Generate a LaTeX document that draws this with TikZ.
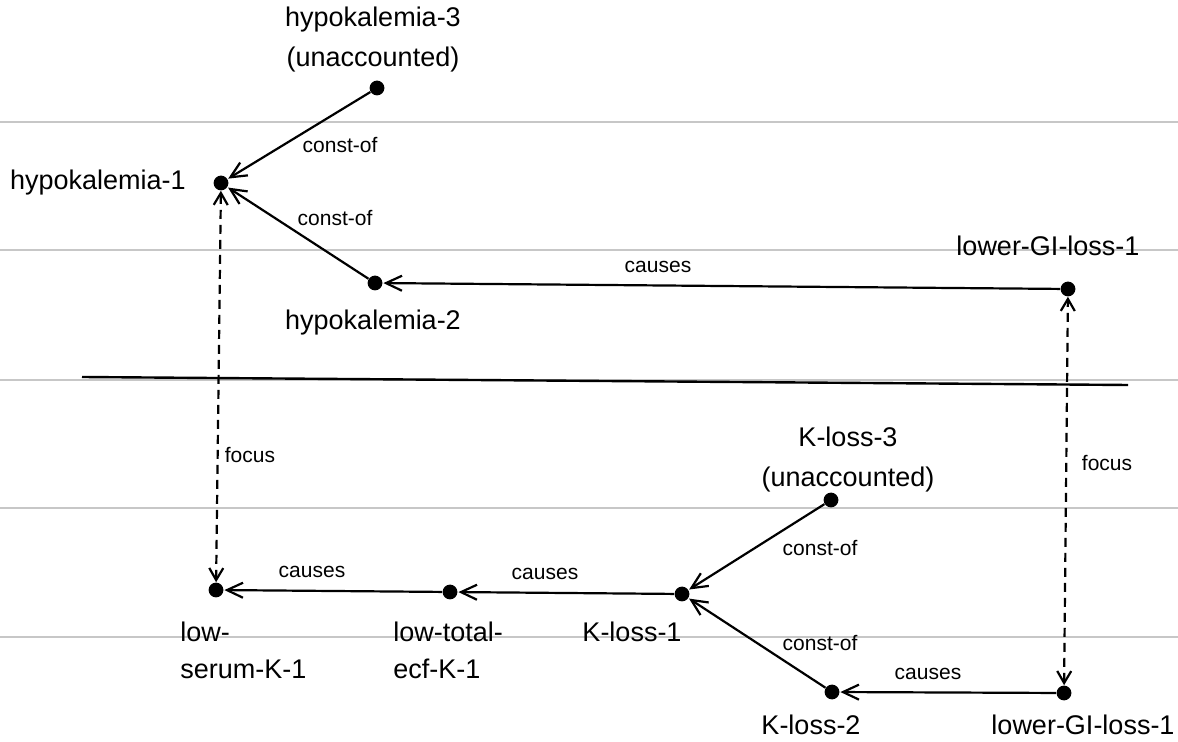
\documentclass[tikz,border=0pt]{standalone}
\usepackage{fontspec}
\setmainfont{Liberation Sans}
\usetikzlibrary{arrows.meta}
\begin{document}
\begin{tikzpicture}[x=0.5pt,y=-0.5pt,
  dot/.style={circle,fill=black,inner sep=0pt,minimum size=7.4pt},
  nlab/.style={font=\fontsize{13.5}{20}\selectfont,inner sep=0pt,align=center},
  nlabl/.style={font=\fontsize{13.5}{18.5}\selectfont,inner sep=0pt,align=left,anchor=north west},
  elab/.style={font=\fontsize{10.5}{12}\selectfont,inner sep=0pt},
  conn/.style={line width=1.1pt,-{Straight Barb[length=8pt,width=7.5pt,line width=1.1pt]},shorten >=0.3pt},
  focusline/.style={line width=1.1pt,dash pattern=on 4.5pt off 3pt,
    {Straight Barb[length=6pt,width=7pt,line width=1.1pt]}-{Straight Barb[length=6pt,width=7pt,line width=1.1pt]}},
  rule/.style={line width=0.6pt,draw=black!22}]
\useasboundingbox (0,0) rectangle (1178,742);
\fill[white] (0,0) rectangle (1178,742);
% faint page rules
\foreach \yy in {122,250,380,508,637} \draw[rule] (0,\yy) -- (1178,\yy);
% separator
\coordinate (sepL) at (82,377);
\coordinate (sepR) at (1128,385);
\draw[line width=1.2pt] (sepL) -- (sepR);

% upper graph
\node[dot] (h3) at (377,88) {};
\node[dot] (h1) at (221,183) {};
\node[dot] (h2) at (375,283) {};
\node[dot] (gA) at (1068,289) {};
\node[nlab] (h3l) at (373,40) {hypokalemia-3\\(unaccounted)};
\node[nlab,anchor=east] (h1l) at (186,183) {hypokalemia-1};
\node[nlab] (h2l) at (373,323) {hypokalemia-2};
\node[nlab] (gAl) at (1048,246) {lower-GI-loss-1};

\draw[conn] (h3) -- (h1);
\draw[conn] (h2) -- (h1);
\draw[conn] (gA) -- (h2);
\node[elab] (e1) at (340,145) {const-of};
\node[elab] (e2) at (335,218) {const-of};
\node[elab] (e3) at (658,267) {causes};

% lower graph
\node[dot] (k3) at (831,500) {};
\node[dot] (k1) at (682,594) {};
\node[dot] (k2) at (832,692) {};
\node[dot] (gB) at (1064,693) {};
\node[dot] (tk) at (450,592) {};
\node[dot] (sk) at (216,590) {};
\node[nlab] (k3l) at (848,460) {K-loss-3\\(unaccounted)};
\node[nlab] (k1l) at (632,632) {K-loss-1};
\node[nlab] (k2l) at (811,725) {K-loss-2};
\node[nlab] (gBl) at (1083,725) {lower-GI-loss-1};
\node[nlabl] (tkl) at (393,622) {low-total-\\ecf-K-1};
\node[nlabl] (skl) at (180,622) {low-\\serum-K-1};

\draw[conn] (k3) -- (k1);
\draw[conn] (k2) -- (k1);
\draw[conn] (gB) -- (k2);
\draw[conn] (k1) -- (tk);
\draw[conn] (tk) -- (sk);
\node[elab] (e4) at (820,548) {const-of};
\node[elab] (e5) at (820,643) {const-of};
\node[elab] (e6) at (928,674) {causes};
\node[elab] (e7) at (545,574) {causes};
\node[elab] (e8) at (312,572) {causes};

% focus links
\draw[focusline] (sk) -- (h1);
\draw[focusline] (gB) -- (gA);
\node[elab] (f1) at (250,455) {focus};
\node[elab] (f2) at (1107,463) {focus};
\end{tikzpicture}
\end{document}
